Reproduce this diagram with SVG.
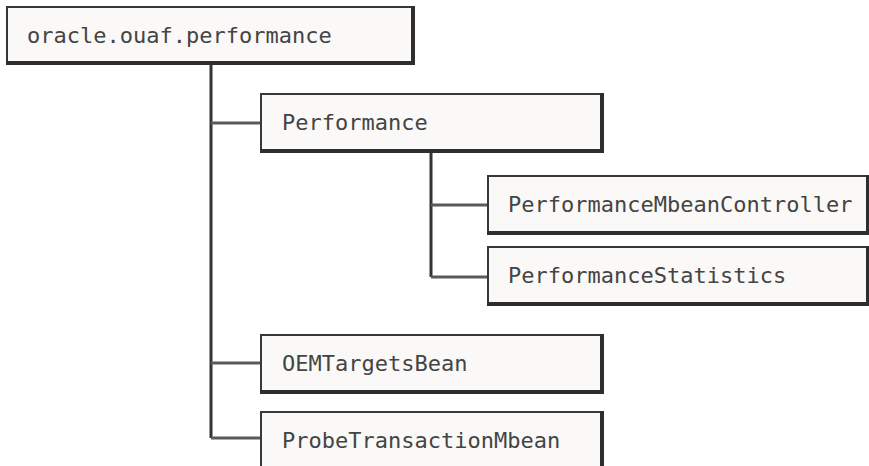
<svg xmlns="http://www.w3.org/2000/svg" width="869" height="466" viewBox="0 0 869 466">
<style>
.box{fill:#faf9f7;stroke:#383838;stroke-width:2}
.sh{fill:none;stroke:#2e2e2e;stroke-width:4;stroke-linecap:square}
.t{font-family:"DejaVu Sans Mono","Liberation Mono",monospace;font-size:22px;fill:#444}
.v{stroke:#333;stroke-width:3;fill:none}
.h{stroke:#5a5a5a;stroke-width:3;fill:none}
</style>
<rect width="869" height="466" fill="#ffffff"/>
<g id="connectors">
<path class="v" d="M211 63 V438"/>
<path class="h" d="M211 123 H261 M211 363 H261 M211 438 H261"/>
<path class="v" d="M431 151 V277"/>
<path class="h" d="M431 205 H488 M431 277 H488"/>
</g>
<g id="n-root">
<rect class="box" x="7" y="7" width="405" height="55"/>
<path class="sh" d="M413 8 V63 H8"/>
<text class="t" x="27" y="43">oracle.ouaf.performance</text>
</g>
<g id="n-performance">
<rect class="box" x="261" y="94" width="340" height="56"/>
<path class="sh" d="M602 95 V151 H262"/>
<text class="t" x="282" y="130">Performance</text>
</g>
<g id="n-pmc">
<rect class="box" x="488" y="176" width="384" height="56"/>
<path class="sh" d="M868 177 V233 H489"/>
<text class="t" x="508" y="212">PerformanceMbeanController</text>
</g>
<g id="n-ps">
<rect class="box" x="488" y="247" width="384" height="56"/>
<path class="sh" d="M868 248 V304 H489"/>
<text class="t" x="508" y="283">PerformanceStatistics</text>
</g>
<g id="n-oem">
<rect class="box" x="261" y="335" width="340" height="56"/>
<path class="sh" d="M602 336 V392 H262"/>
<text class="t" x="282" y="371">OEMTargetsBean</text>
</g>
<g id="n-probe">
<rect class="box" x="261" y="412" width="340" height="70"/>
<path class="sh" d="M602 413 V470"/>
<text class="t" x="282" y="448">ProbeTransactionMbean</text>
</g>
</svg>
